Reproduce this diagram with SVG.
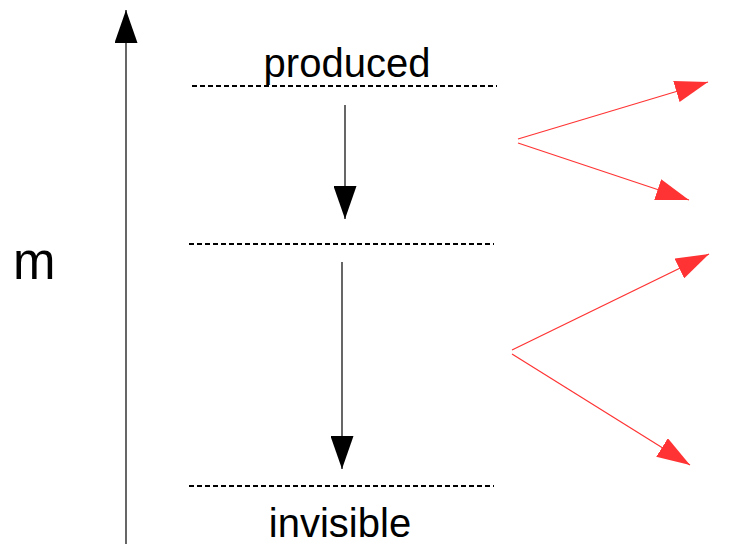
<svg xmlns="http://www.w3.org/2000/svg" width="730" height="544" viewBox="0 0 730 544">
<style>
.t{font-family:"Liberation Sans",Arial,sans-serif;fill:#000}
.lvl{stroke:#000;stroke-width:2;stroke-dasharray:5,3;fill:none}
.blk{stroke:#000;stroke-width:1.2;fill:none}
.red{stroke:#ff3333;stroke-width:1.2;fill:none}
</style>
<defs>
<marker id="ab" markerUnits="userSpaceOnUse" viewBox="0 0 33 23" refX="33" refY="11.5" markerWidth="33" markerHeight="23" orient="auto">
<path d="M0,0 L33,11.5 L0,23 Z" fill="#000"/>
</marker>
<marker id="ar" markerUnits="userSpaceOnUse" viewBox="0 0 33 22" refX="33" refY="11" markerWidth="33" markerHeight="22" orient="auto">
<path d="M0,0 L33,11 L0,22 Z" fill="#ff3333"/>
</marker>
</defs>
<rect width="730" height="544" fill="#fff"/>
<g id="axis">
<line class="blk" x1="126" y1="544" x2="126" y2="10" marker-end="url(#ab)"/>
<text class="t" x="13" y="279" font-size="51">m</text>
</g>
<g id="level-produced">
<line class="lvl" x1="192" y1="86" x2="497" y2="86"/>
<text class="t" x="347" y="77" font-size="40" text-anchor="middle">produced</text>
</g>
<g id="level-middle">
<line class="lvl" x1="189" y1="244" x2="494" y2="244"/>
</g>
<g id="level-invisible">
<line class="lvl" x1="189" y1="486" x2="494" y2="486"/>
<text class="t" x="340" y="537" font-size="40" text-anchor="middle">invisible</text>
</g>
<g id="connectors">
<line class="blk" x1="345" y1="105" x2="345" y2="219" marker-end="url(#ab)"/>
<line class="blk" x1="342" y1="262" x2="342" y2="469" marker-end="url(#ab)"/>
<line class="red" x1="518" y1="139" x2="708" y2="82" marker-end="url(#ar)"/>
<line class="red" x1="518" y1="143" x2="689" y2="200" marker-end="url(#ar)"/>
<line class="red" x1="512" y1="350" x2="709" y2="254" marker-end="url(#ar)"/>
<line class="red" x1="512" y1="354" x2="690" y2="465" marker-end="url(#ar)"/>
</g>
</svg>
